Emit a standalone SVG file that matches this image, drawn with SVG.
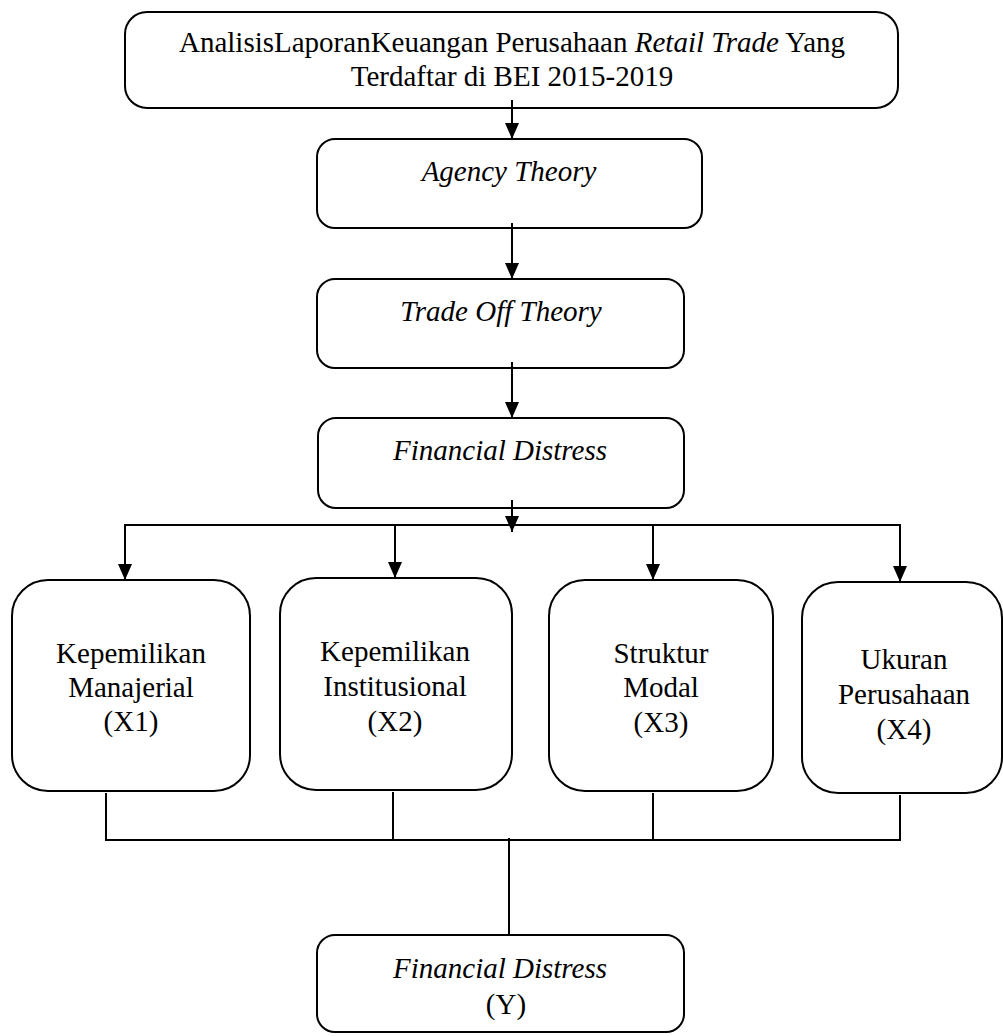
<svg xmlns="http://www.w3.org/2000/svg" width="1003" height="1036" viewBox="0 0 1003 1036">
<defs>
<marker id="arr" markerUnits="userSpaceOnUse" markerWidth="16" markerHeight="16" viewBox="0 0 16 16" refX="16" refY="8" orient="auto">
<path d="M0,1 L16,8 L0,15 Z" fill="#000"/>
</marker>
</defs>
<style>
.box{fill:#fff;stroke:#000;stroke-width:2}
.t{font-family:"Liberation Serif","Times New Roman",serif;font-size:29px;fill:#000;text-anchor:middle}
.i{font-style:italic}
.c{fill:none;stroke:#000;stroke-width:2}
.a{fill:none;stroke:#000;stroke-width:2;marker-end:url(#arr)}
</style>
<rect width="1003" height="1036" fill="#fff"/>
<g id="top">
<rect class="box" x="125" y="12" width="773" height="96" rx="22"/>
<text class="t" x="512" y="52">AnalisisLaporanKeuangan Perusahaan <tspan class="i">Retail Trade</tspan> Yang</text>
<text class="t" x="512" y="86">Terdaftar di BEI 2015-2019</text>
</g>
<g id="agency">
<rect class="box" x="317" y="139" width="385" height="89" rx="18"/>
<text class="t i" x="509" y="181">Agency Theory</text>
</g>
<g id="tradeoff">
<rect class="box" x="317" y="279" width="367" height="89" rx="18"/>
<text class="t i" x="501" y="321">Trade Off Theory</text>
</g>
<g id="fd">
<rect class="box" x="318" y="418" width="366" height="90" rx="18"/>
<text class="t i" x="500" y="460">Financial Distress</text>
</g>
<g id="x1">
<rect class="box" x="12" y="580" width="238" height="211" rx="36"/>
<text class="t" x="131" y="663">Kepemilikan</text>
<text class="t" x="131" y="697">Manajerial</text>
<text class="t" x="131" y="731">(X1)</text>
</g>
<g id="x2">
<rect class="box" x="280" y="578" width="232" height="212" rx="36"/>
<text class="t" x="395" y="661">Kepemilikan</text>
<text class="t" x="395" y="696">Institusional</text>
<text class="t" x="395" y="731">(X2)</text>
</g>
<g id="x3">
<rect class="box" x="549" y="580" width="224" height="211" rx="36"/>
<text class="t" x="661" y="663">Struktur</text>
<text class="t" x="661" y="697">Modal</text>
<text class="t" x="661" y="732">(X3)</text>
</g>
<g id="x4">
<rect class="box" x="802" y="582" width="200" height="211" rx="36"/>
<text class="t" x="904" y="669">Ukuran</text>
<text class="t" x="904" y="704">Perusahaan</text>
<text class="t" x="904" y="739">(X4)</text>
</g>
<g id="y">
<rect class="box" x="317" y="935" width="367" height="97" rx="18"/>
<text class="t i" x="500" y="978">Financial Distress</text>
<text class="t" x="506" y="1014">(Y)</text>
</g>
<g id="connectors">
<line class="a" x1="512" y1="100" x2="512" y2="139"/>
<line class="a" x1="512" y1="223" x2="512" y2="279"/>
<line class="a" x1="512" y1="362" x2="512" y2="418"/>
<line class="a" x1="512" y1="500" x2="512" y2="532"/>
<line class="c" x1="124" y1="525" x2="901" y2="525"/>
<line class="a" x1="125" y1="525" x2="125" y2="580"/>
<line class="a" x1="395" y1="525" x2="395" y2="578"/>
<line class="a" x1="653" y1="525" x2="653" y2="580"/>
<line class="a" x1="900" y1="525" x2="900" y2="582"/>
<line class="c" x1="106" y1="793" x2="106" y2="840"/>
<line class="c" x1="393" y1="792" x2="393" y2="840"/>
<line class="c" x1="653" y1="793" x2="653" y2="840"/>
<line class="c" x1="900" y1="795" x2="900" y2="840"/>
<line class="c" x1="105" y1="840" x2="901" y2="840"/>
<line class="c" x1="509" y1="838" x2="509" y2="935"/>
</g>
</svg>
